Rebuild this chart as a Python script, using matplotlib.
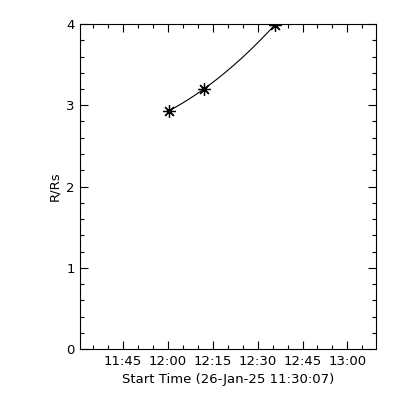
import numpy as np
import matplotlib
matplotlib.use("Agg")
import matplotlib.pyplot as plt
import matplotlib.dates as mdates
from datetime import datetime

# observed heights
times = ["2025-01-26 12:00:15", "2025-01-26 12:12:00", "2025-01-26 12:35:45"]
heights = [2.93, 3.20, 3.99]

x_start = "2025-01-26 11:30:44"
x_end = "2025-01-26 13:09:34"
start_label = "Start Time (26-Jan-25 11:30:07)"

t = [datetime.strptime(s, "%Y-%m-%d %H:%M:%S") for s in times]
tn = mdates.date2num(t)

# quadratic fit through the points, drawn between first and last
coef = np.polyfit(tn - tn[0], heights, 2)
tf = np.linspace(tn[0], tn[-1], 100)
hf = np.polyval(coef, tf - tn[0])

plt.rcParams["font.family"] = "DejaVu Sans"
fig = plt.figure(figsize=(4, 4), dpi=100)
ax = fig.add_axes([0.201, 0.1275, 0.739, 0.8125])

ax.plot(tf, hf, color="black", lw=0.8)
ax.plot(tn, heights, ls="none", marker=(8, 2, 0), markersize=9,
        markeredgewidth=0.9, color="black")

ax.set_xlim(mdates.date2num(datetime.strptime(x_start, "%Y-%m-%d %H:%M:%S")),
            mdates.date2num(datetime.strptime(x_end, "%Y-%m-%d %H:%M:%S")))
ax.set_ylim(0, 4)

ax.xaxis.set_major_locator(mdates.MinuteLocator(byminute=[0, 15, 30, 45]))
ax.xaxis.set_minor_locator(mdates.MinuteLocator(byminute=range(0, 60, 5)))
ax.xaxis.set_major_formatter(mdates.DateFormatter("%H:%M"))
ax.set_yticks([0, 1, 2, 3, 4])
ax.set_yticks(np.arange(0, 4.01, 0.2), minor=True)

ax.tick_params(which="both", direction="in", top=True, right=True,
               width=0.8, labelsize=9.5, colors="black")
ax.tick_params(which="major", length=5.5, pad=4)
ax.tick_params(which="minor", length=2.8)
for s in ax.spines.values():
    s.set_linewidth(0.8)

ax.set_xlabel(start_label, fontsize=9.5, labelpad=4)
ax.set_ylabel("R/Rs", fontsize=9.5, labelpad=4)

fig.savefig("out.png", dpi=100)
